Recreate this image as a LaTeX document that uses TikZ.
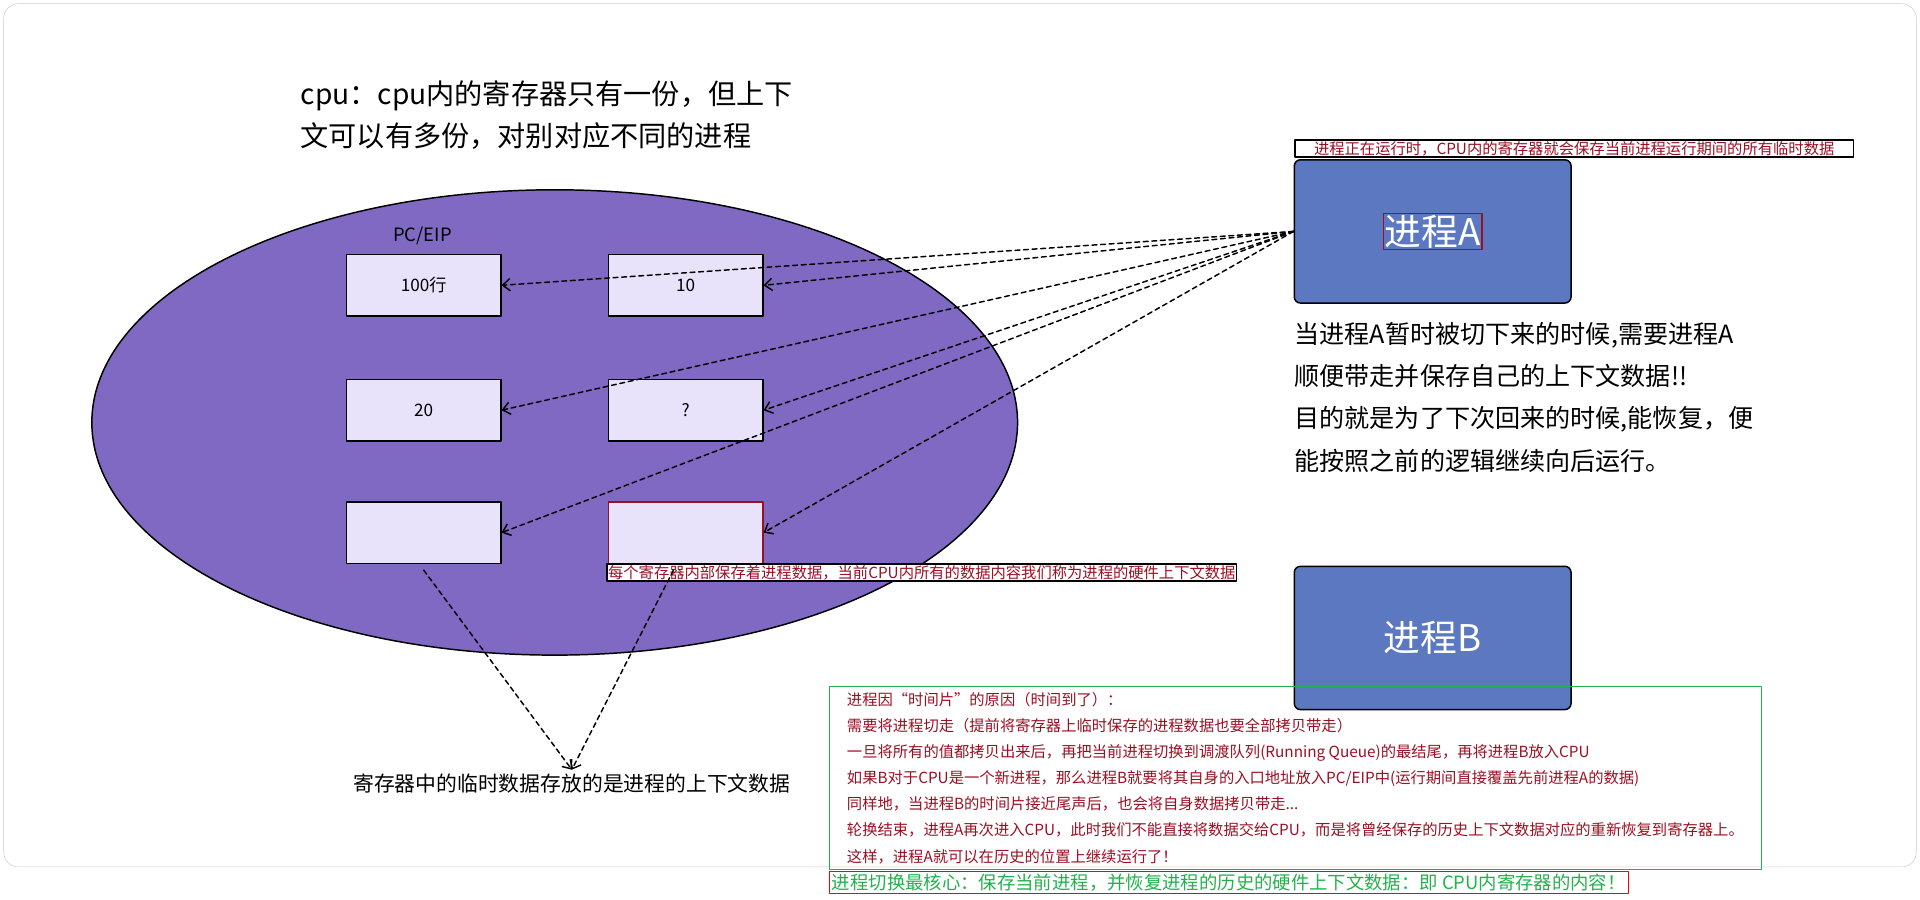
\documentclass[tikz,border=0pt]{standalone}
\usepackage{fontspec}
\setmainfont{Noto Sans CJK SC}
\usetikzlibrary{arrows.meta}
\definecolor{cpuviolet}{HTML}{8069C2}
\definecolor{regfill}{HTML}{E8E2FA}
\definecolor{procblue}{HTML}{5B78C0}
\definecolor{darkred}{HTML}{9B0F23}
\definecolor{boxgreen}{HTML}{22B24C}
\begin{document}
\begin{tikzpicture}[
	x=1pt, y=-1pt,
	line cap=round, line join=round,
	reg/.style={draw=black, very thick, fill=regfill, minimum width=126pt, minimum height=50pt, font=\fontsize{14}{16}\selectfont},
	proc/.style={draw=black, very thick, fill=procblue, rounded corners=5pt, minimum width=226pt, minimum height=117pt, text=white, font=\fontsize{30}{34}\selectfont},
	note/.style={draw=black, very thick, fill=white, text=darkred, inner sep=2pt, font=\fontsize{12.5}{14}\selectfont},
	link/.style={very thick, dash pattern=on 4pt off 3pt, -{Straight Barb[length=6pt,width=10pt]}}
]
	\useasboundingbox (0,0) rectangle (1568,735);
	\draw[gray!40, rounded corners=12pt] (3,3) rectangle (1565,708);
	% cpu
	\draw[very thick, fill=cpuviolet] (453,345) ellipse [x radius=378, y radius=190];
	\node[anchor=north west, align=left, font=\fontsize{23}{35}\selectfont] (title) at (242,62)
		{cpu：cpu内的寄存器只有一份，但上下\\文可以有多份，对别对应不同的进程};
	\node[font=\fontsize{15}{17}\selectfont] (pclabel) at (345,193) {PC/EIP};
	% registers
	\node[reg] (r11) at (346,233) {100行};
	\node[reg] (r12) at (560,233) {10};
	\node[reg] (r21) at (346,335) {20};
	\node[reg] (r22) at (560,335) {?};
	\node[reg] (r31) at (346,435) {};
	\node[reg, draw=darkred] (r32) at (560,435) {};
	\node[note, anchor=north west, inner sep=1pt] (regnote) at (495,460)
		{每个寄存器内部保存着进程数据，当前CPU内所有的数据内容我们称为进程的硬件上下文数据};
	% processes
	\node[proc] (pa) at (1170,189) {};
	\node[draw=darkred, very thick, inner sep=1pt, text=white, font=\fontsize{30}{34}\selectfont] (paname) at (pa) {进程A};
	\node[note, anchor=south west, minimum width=456pt, inner sep=1pt] (panote) at (1057,129)
		{进程正在运行时，CPU内的寄存器就会保存当前进程运行期间的所有临时数据};
	\node[proc] (pb) at (1170,521) {进程B};
	\node[anchor=north west, align=left, font=\fontsize{20.5}{34.5}\selectfont, inner sep=0pt] (ctxtext) at (1057,263)
		{当进程A暂时被切下来的时候,需要进程A\\顺便带走并保存自己的上下文数据!!\\目的就是为了下次回来的时候,能恢复，便\\能按照之前的逻辑继续向后运行。};
	\node[font=\fontsize{17}{20}\selectfont] (ctxlabel) at (467,640) {寄存器中的临时数据存放的是进程的上下文数据};
	% switch notes
	\node[draw=boxgreen, thick, anchor=north west, align=left, text=darkred, minimum width=761pt, minimum height=150pt, inner sep=5pt, font=\fontsize{12.5}{21.3}\selectfont] (switchnote) at (677,560)
		{进程因“时间片”的原因（时间到了）：\\
		需要将进程切走（提前将寄存器上临时保存的进程数据也要全部拷贝带走）\\
		一旦将所有的值都拷贝出来后，再把当前进程切换到调渡队列(Running Queue)的最结尾，再将进程B放入CPU\\
		如果B对于CPU是一个新进程，那么进程B就要将其自身的入口地址放入PC/EIP中(运行期间直接覆盖先前进程A的数据)\\
		同样地，当进程B的时间片接近尾声后，也会将自身数据拷贝带走...\\
		轮换结束，进程A再次进入CPU，此时我们不能直接将数据交给CPU，而是将曾经保存的历史上下文数据对应的重新恢复到寄存器上。\\
		这样，进程A就可以在历史的位置上继续运行了！};
	\node[draw=red, thick, anchor=north west, text=boxgreen, inner sep=2pt, font=\fontsize{15}{17}\selectfont] (corenote) at (677,711)
		{进程切换最核心：保存当前进程，并恢复进程的历史的硬件上下文数据：即 CPU内寄存器的内容！};
	% context links
	\foreach \target in {r11,r12,r21,r22,r31,r32}
		\draw[link] (pa.west) -- (\target.east);
	\draw[link] (r31.south) ++(0,5) -- (ctxlabel.north);
	\draw[link] (r32.south) ++(-10,5) -- (ctxlabel.north);
\end{tikzpicture}
\end{document}
